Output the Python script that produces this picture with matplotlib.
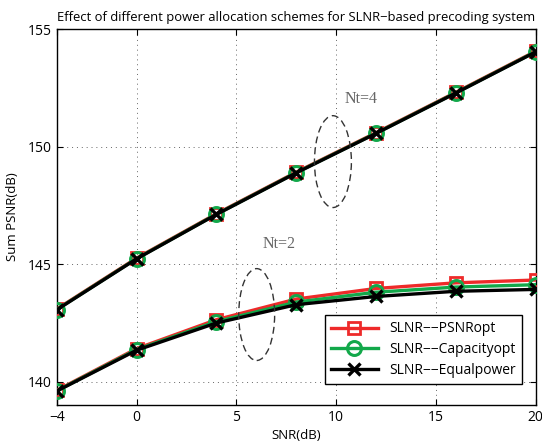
import numpy as np
import matplotlib
matplotlib.use("Agg")
import matplotlib.pyplot as plt
from matplotlib.patches import Ellipse

plt.rcParams['font.family'] = ['Open Sans', 'DejaVu Sans']

# SNR points
snr = [-4, 0, 4, 8, 12, 16, 20]

# Nt=4
nt4_psnr = [143.08, 145.25, 147.14, 148.91, 150.59, 152.31, 154.06]
nt4_cap = [143.06, 145.23, 147.12, 148.89, 150.57, 152.29, 154.04]
nt4_eq = [143.05, 145.22, 147.11, 148.88, 150.56, 152.28, 154.03]

# Nt=2
nt2_psnr = [139.62, 141.40, 142.63, 143.51, 143.96, 144.20, 144.32]
nt2_cap = [139.60, 141.36, 142.55, 143.38, 143.80, 144.02, 144.12]
nt2_eq = [139.59, 141.33, 142.49, 143.27, 143.62, 143.84, 143.92]

labels = ['SLNR\u2212\u2212PSNRopt', 'SLNR\u2212\u2212Capacityopt', 'SLNR\u2212\u2212Equalpower']

fig = plt.figure(figsize=(5.42, 4.48), dpi=100)
ax = fig.add_axes([0.1046, 0.096, 0.8838, 0.839])

red = '#ee2a2a'
green = '#12a84a'
black = 'black'

for ys_list in [(nt4_psnr, nt4_cap, nt4_eq), (nt2_psnr, nt2_cap, nt2_eq)]:
    l1, = ax.plot(snr, ys_list[0], color=red, lw=2.4, marker='s', ms=9,
                  mfc='none', mec=red, mew=2, zorder=3)
    l2, = ax.plot(snr, ys_list[1], color=green, lw=2.4, marker='o', ms=10,
                  mfc='none', mec=green, mew=2.2, zorder=4)
    l3, = ax.plot(snr, ys_list[2], color=black, lw=2.4, marker='x', ms=8,
                  mec=black, mew=2.4, zorder=5)

ax.set_xlim(-4, 20)
ax.set_ylim(139, 155)
ax.set_xticks([-4, 0, 5, 10, 15, 20])
ax.set_yticks([140, 145, 150, 155])
ax.tick_params(direction='in', top=True, right=True, labelsize=10, length=4)
ax.grid(True, linestyle=(0, (1, 4)), color='#666666', lw=0.7)
for sp in ax.spines.values():
    sp.set_linewidth(1.0)

ax.set_xlabel('SNR(dB)', fontsize=9.5, labelpad=3)
ax.set_ylabel('Sum PSNR(dB)', fontsize=9.5, labelpad=6)
ax.set_title('Effect of different power allocation schemes for SLNR\u2212based precoding system',
             fontsize=9.4, pad=6)

# annotations
ax.add_patch(Ellipse((9.84, 149.36), 1.85, 3.91, fill=False, ls=(0, (5, 3)),
                     lw=1.0, color='#333333', zorder=6))
ax.add_patch(Ellipse((6.02, 142.85), 1.8, 3.91, fill=False, ls=(0, (5, 3)),
                     lw=1.0, color='#333333', zorder=6))
ax.text(10.44, 152.03, 'Nt=4', family='Liberation Serif', fontsize=11.5,
        color='#666666', va='center', ha='left')
ax.text(6.34, 145.86, 'Nt=2', family='Liberation Serif', fontsize=11.5,
        color='#666666', va='center', ha='left')

leg = ax.legend([l1, l2, l3], labels, loc='lower right',
                bbox_to_anchor=(0.986, 0.038), fontsize=10, fancybox=False,
                framealpha=1, edgecolor='black', handlelength=3.4,
                borderpad=0.45, labelspacing=0.4)
leg.get_frame().set_linewidth(1.0)

fig.savefig('out.png', dpi=100)
